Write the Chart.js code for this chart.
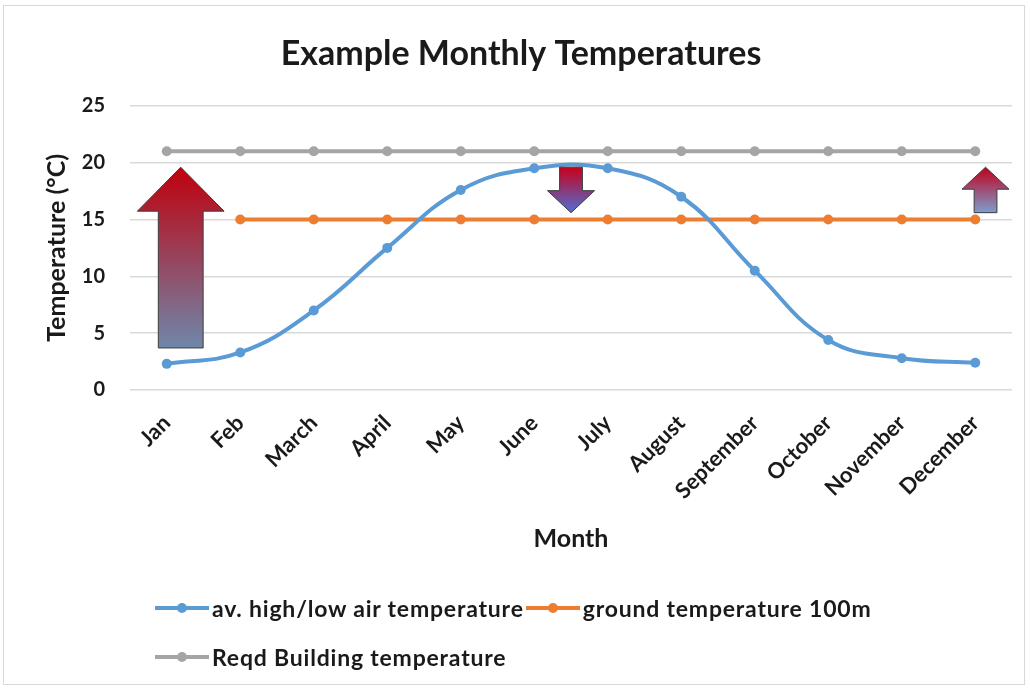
<!DOCTYPE html>
<html>
<head>
<meta charset="utf-8">
<script src="https://cdn.jsdelivr.net/npm/chart.js@4.4.1/dist/chart.umd.min.js"></script>
<style>
  html, body { margin: 0; padding: 0; background: #fff; }
  #wrap { position: relative; width: 1030px; height: 688px; }
  #frame { position: absolute; left: 3px; top: 5px; width: 1022px; height: 680px; border: 1px solid #d9d9d9; box-sizing: border-box; }
  #legend { position: absolute; left: 155px; top: 591px; width: 800px; display: flex; flex-wrap: wrap; row-gap: 15px;
            font: bold 23px Lato, sans-serif; letter-spacing: 0.8px; color: #1a1a1a; }
  .item { display: inline-flex; align-items: center; height: 34px; margin-right: 2px; }
  .mark { position: relative; width: 54px; height: 14px; margin-right: 3px; }
  .mark .ln { position: absolute; left: 0; right: 0; top: 5px; height: 4px; }
  .mark .dot { position: absolute; left: 22px; top: 2px; width: 10px; height: 10px; border-radius: 50%; }
</style>
</head>
<body>
<div id="wrap">
  <div id="frame"></div>
  <canvas id="c"></canvas>
  <div id="legend"></div>
</div>
<script>
// dados
const meses = ['Jan', 'Feb', 'March', 'April', 'May', 'June', 'July', 'August', 'September', 'October', 'November', 'December'];
const tempAr = [2.3, 3.3, 7.0, 12.5, 17.6, 19.5, 19.5, 17.0, 10.5, 4.4, 2.8, 2.4];
const tempSolo = [null, 15, 15, 15, 15, 15, 15, 15, 15, 15, 15, 15];
const tempEdificio = [21, 21, 21, 21, 21, 21, 21, 21, 21, 21, 21, 21];
const yTicks = [0, 5, 10, 15, 20, 25];

// setas (posicao no eixo de categorias, valor inicial, valor final)
const setaMes = [0.19, 5.5, 11.14];
const setaDe = [3.7, 19.6, 15.6];
const setaAte = [19.6, 15.6, 19.6];

const FONTE = 'Lato, sans-serif';
const TXT = '#1a1a1a';

const setasPlugin = {
  id: 'setas',
  afterDatasetsDraw(chart) {
    const { ctx, scales: { x, y } } = chart;
    const banda = x.getPixelForValue(1) - x.getPixelForValue(0);
    // corpo, cabeca (fracao da banda), comprimento da cabeca (px), cores de cima p/ baixo
    const estilos = [
      { corpo: 0.61, cabeca: 1.18, ponta: 44, cores: ['#c0000c', '#6f87ab'] },
      { corpo: 0.31, cabeca: 0.64, ponta: 22, cores: ['#c8001a', '#4f70d6'] },
      { corpo: 0.31, cabeca: 0.64, ponta: 22, cores: ['#c0001a', '#7d9dd0'] },
    ];
    setaMes.forEach((m, i) => {
      const st = estilos[i];
      const cx = x.getPixelForValue(m);
      const y0 = y.getPixelForValue(setaDe[i]);
      const y1 = y.getPixelForValue(setaAte[i]);
      const dir = y1 < y0 ? -1 : 1;
      const hb = y1 - dir * st.ponta;
      const bw = st.corpo * banda / 2, hw = st.cabeca * banda / 2;
      ctx.save();
      ctx.beginPath();
      ctx.moveTo(cx - bw, y0);
      ctx.lineTo(cx - bw, hb);
      ctx.lineTo(cx - hw, hb);
      ctx.lineTo(cx, y1);
      ctx.lineTo(cx + hw, hb);
      ctx.lineTo(cx + bw, hb);
      ctx.lineTo(cx + bw, y0);
      ctx.closePath();
      const g = ctx.createLinearGradient(0, Math.min(y0, y1), 0, Math.max(y0, y1));
      g.addColorStop(0, st.cores[0]);
      g.addColorStop(1, st.cores[1]);
      ctx.fillStyle = g;
      ctx.fill();
      ctx.strokeStyle = '#3c3c3c';
      ctx.lineWidth = 1;
      ctx.stroke();
      ctx.restore();
    });
  }
};

const serie = (label, data, cor, tension) => ({
  label, data,
  borderColor: cor, backgroundColor: cor,
  borderWidth: 4, pointRadius: 5, pointHoverRadius: 6,
  pointBorderWidth: 0, tension, fill: false,
});

const chart = new Chart(document.getElementById('c'), {
  type: 'line',
  data: {
    labels: meses,
    datasets: [
      serie('av. high/low air temperature', tempAr, '#5b9bd5', 0.42),
      serie('ground temperature 100m', tempSolo, '#ed7d31', 0),
      serie('Reqd Building temperature', tempEdificio, '#a5a5a5', 0),
    ]
  },
  options: {
    responsive: true,
    maintainAspectRatio: false,
    animation: false,
    layout: { padding: { left: 30, right: 18, top: 8, bottom: 134 } },
    plugins: {
      legend: { display: false },
      tooltip: { enabled: false },
      title: {
        display: true,
        text: 'Example Monthly Temperatures',
        color: TXT,
        font: { family: FONTE, size: 34, weight: 'bold' },
        padding: { top: 26, bottom: 31 }
      }
    },
    scales: {
      x: {
        offset: true,
        grid: { display: false },
        border: { display: false },
        ticks: { color: TXT, font: { family: FONTE, size: 22, weight: 'bold' }, maxRotation: 45, minRotation: 45, padding: 12, autoSkip: false },
        title: { display: true, text: 'Month', color: TXT, font: { family: FONTE, size: 25, weight: 'bold' }, padding: 0 },
        afterFit: s => { s.height = 164; }
      },
      y: {
        min: 0, max: 25,
        afterBuildTicks: s => { s.ticks = yTicks.map(v => ({ value: v })); },
        grid: { color: '#d9d9d9', lineWidth: 1.5, drawTicks: false },
        border: { display: false },
        ticks: { color: TXT, font: { family: FONTE, size: 20, weight: 'bold' }, padding: 25 },
        title: { display: true, text: 'Temperature (°C)', color: TXT, font: { family: FONTE, size: 25, weight: 'bold' }, padding: { top: 12, bottom: 0 } },
        afterFit: s => { s.width = 100; }
      }
    }
  },
  plugins: [setasPlugin]
});

// legenda em HTML, montada a partir dos datasets
const leg = document.getElementById('legend');
chart.data.datasets.forEach(ds => {
  const it = document.createElement('div');
  it.className = 'item';
  it.innerHTML = '<span class="mark"><span class="ln"></span><span class="dot"></span></span>';
  it.querySelector('.ln').style.background = ds.borderColor;
  it.querySelector('.dot').style.background = ds.borderColor;
  it.appendChild(document.createTextNode(ds.label));
  leg.appendChild(it);
});
</script>
</body>
</html>
